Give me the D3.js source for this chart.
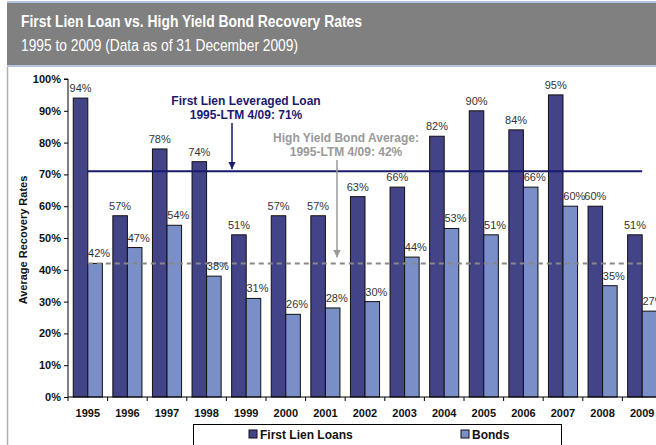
<!DOCTYPE html>
<html>
<head>
<meta charset="utf-8">
<script src="https://cdn.jsdelivr.net/npm/d3@7"></script>
<style>
  body { margin: 0; background: #fff; overflow: hidden; }
  svg { font-family: Arial, "Liberation Sans", sans-serif; display: block; }
</style>
</head>
<body>
<div id="chart"></div>
<script>
// Data
const years = ['1995', '1996', '1997', '1998', '1999', '2000', '2001', '2002',
               '2003', '2004', '2005', '2006', '2007', '2008', '2009'];
const loans = [94, 57, 78, 74, 51, 57, 57, 63, 66, 82, 90, 84, 95, 60, 51];
const bonds = [42, 47, 54, 38, 31, 26, 28, 30, 44, 53, 51, 66, 60, 35, 27];
const loanAvg = 71;
const bondAvg = 42;
const yTicks = [0, 10, 20, 30, 40, 50, 60, 70, 80, 90, 100];

const width = 656, height = 445;
const margin = { top: 79, left: 68, bottom: 48 };
const bandStep = 39.6;

const svg = d3.select('#chart').append('svg')
    .attr('width', width)
    .attr('height', height);

// Header band
svg.append('rect').attr('x', 7).attr('y', 1).attr('width', width).attr('height', 66)
    .attr('fill', '#b4c3e0');
svg.append('rect').attr('x', 7).attr('y', 3).attr('width', width).attr('height', 62)
    .attr('fill', '#808080');
svg.append('line').attr('x1', 7.5).attr('x2', 7.5).attr('y1', 67).attr('y2', height)
    .attr('stroke', '#b0b0b0').attr('stroke-width', 1.5);

// the header font is a condensed face, so squeeze it to the measured width
svg.append('text').attr('x', 21).attr('y', 27)
    .attr('fill', '#fff').attr('font-size', 16).attr('font-weight', 'bold')
    .attr('textLength', 341).attr('lengthAdjust', 'spacingAndGlyphs')
    .text('First Lien Loan vs. High Yield Bond Recovery Rates');
svg.append('text').attr('x', 21).attr('y', 51)
    .attr('fill', '#fff').attr('font-size', 16)
    .attr('textLength', 277).attr('lengthAdjust', 'spacingAndGlyphs')
    .text('1995 to 2009 (Data as of 31 December 2009)');

// Scales
const x0 = d3.scaleBand()
    .domain(years)
    .range([margin.left, margin.left + bandStep * years.length])
    .paddingInner(0.265)
    .paddingOuter(0.1325);

const x1 = d3.scaleBand()
    .domain(['loans', 'bonds'])
    .range([0, x0.bandwidth()]);

const y = d3.scaleLinear()
    .domain([0, 100])
    .range([height - margin.bottom, margin.top]);

const xEdge = d3.scaleLinear()
    .domain([0, years.length])
    .range([margin.left, margin.left + bandStep * years.length]);

const colors = { loans: '#434388', bonds: '#7a8fc8' };
const labelShift = { loans: 0, bonds: 4 };
const rows = years.map((yr, i) => ({ year: yr, loans: loans[i], bonds: bonds[i] }));

// Bars
const groups = svg.append('g').selectAll('g')
    .data(rows)
    .join('g')
    .attr('transform', d => `translate(${x0(d.year)},0)`);

['loans', 'bonds'].forEach(key => {
    groups.append('rect')
        .attr('x', x1(key))
        .attr('y', d => y(d[key]))
        .attr('width', x1.bandwidth())
        .attr('height', d => y(0) - y(d[key]))
        .attr('fill', colors[key])
        .attr('stroke', '#111')
        .attr('stroke-width', 1);
});

// Average lines
const xFirst = x0(years[0]) + x0.bandwidth() / 2;
const xLast = x0(years[years.length - 1]) + x0.bandwidth() / 2;

svg.append('line')
    .attr('x1', xFirst).attr('x2', xLast)
    .attr('y1', y(bondAvg)).attr('y2', y(bondAvg))
    .attr('stroke', '#888').attr('stroke-width', 2)
    .attr('stroke-dasharray', '5,4');

svg.append('line')
    .attr('x1', xFirst).attr('x2', xLast)
    .attr('y1', y(loanAvg)).attr('y2', y(loanAvg))
    .attr('stroke', '#1a1a6e').attr('stroke-width', 2);

// Value labels on top of everything
const labels = svg.append('g').selectAll('g')
    .data(rows)
    .join('g')
    .attr('transform', d => `translate(${x0(d.year)},0)`);

['loans', 'bonds'].forEach(key => {
    labels.append('text')
        .attr('x', x1(key) + x1.bandwidth() / 2 + labelShift[key])
        .attr('y', d => y(d[key]) - 6)
        .attr('text-anchor', 'middle')
        .attr('font-size', 11)
        .attr('fill', '#333')
        .text(d => d[key] + '%');
});

// Axes
const axisY = d3.axisLeft(y)
    .tickValues(yTicks)
    .tickFormat(d => d + '%')
    .tickSize(4)
    .tickPadding(3);

const gy = svg.append('g')
    .attr('transform', `translate(${margin.left},0)`)
    .call(axisY);
gy.select('.domain').attr('stroke', '#000').attr('d', `M-4,${y(100)}H0V${y(0)}`);
gy.selectAll('text').attr('font-size', 11).attr('font-weight', 'bold')
    .attr('font-family', 'Arial, "Liberation Sans", sans-serif').attr('fill', '#111');

const gx = svg.append('g').attr('transform', `translate(0,${y(0)})`);
gx.append('line')
    .attr('x1', margin.left).attr('x2', width)
    .attr('stroke', '#000');
gx.selectAll('.tick')
    .data(d3.range(years.length + 1))
    .join('line')
    .attr('x1', d => xEdge(d)).attr('x2', d => xEdge(d))
    .attr('y1', 0).attr('y2', 4)
    .attr('stroke', '#000');
gx.selectAll('.lbl')
    .data(years)
    .join('text')
    .attr('x', d => x0(d) + x0.bandwidth() / 2)
    .attr('y', 20)
    .attr('text-anchor', 'middle')
    .attr('font-size', 11).attr('font-weight', 'bold').attr('fill', '#111')
    .text(d => d);

// Y axis title
svg.append('text')
    .attr('transform', 'rotate(-90)')
    .attr('x', -240).attr('y', 27)
    .attr('text-anchor', 'middle')
    .attr('font-size', 11).attr('font-weight', 'bold').attr('fill', '#111')
    .text('Average Recovery Rates');

// Annotations
svg.append('defs').selectAll('marker')
    .data([['navyHead', '#1a1a6e'], ['grayHead', '#999']])
    .join('marker')
    .attr('id', d => d[0])
    .attr('viewBox', '0 0 10 10')
    .attr('refX', 10).attr('refY', 5)
    .attr('markerWidth', 5).attr('markerHeight', 5)
    .attr('orient', 'auto')
    .append('path')
    .attr('d', 'M0,0L10,5L0,10Z')
    .attr('fill', d => d[1]);

const loanNote = svg.append('text')
    .attr('text-anchor', 'middle')
    .attr('font-size', 12).attr('font-weight', 'bold').attr('fill', '#1a1a6e');
loanNote.append('tspan').attr('x', 246).attr('y', 105).text('First Lien Leveraged Loan');
loanNote.append('tspan').attr('x', 246).attr('y', 119).text('1995-LTM 4/09: ' + loanAvg + '%');

svg.append('line')
    .attr('x1', 232).attr('x2', 232)
    .attr('y1', 123).attr('y2', y(loanAvg) - 2)
    .attr('stroke', '#1a1a6e').attr('stroke-width', 1.5)
    .attr('marker-end', 'url(#navyHead)');

const bondNote = svg.append('text')
    .attr('text-anchor', 'middle')
    .attr('font-size', 12).attr('font-weight', 'bold').attr('fill', '#999');
bondNote.append('tspan').attr('x', 346).attr('y', 142).text('High Yield Bond Average:');
bondNote.append('tspan').attr('x', 346).attr('y', 156).text('1995-LTM 4/09: ' + bondAvg + '%');

svg.append('line')
    .attr('x1', 337).attr('x2', 337)
    .attr('y1', 160).attr('y2', y(bondAvg) - 6)
    .attr('stroke', '#999').attr('stroke-width', 1.5)
    .attr('marker-end', 'url(#grayHead)');

// Legend
const legend = svg.append('g');
legend.append('rect')
    .attr('x', 193.5).attr('y', 424.5).attr('width', 368).attr('height', 30)
    .attr('fill', '#fff').attr('stroke', '#000');
const items = [['First Lien Loans', colors.loans, 249], ['Bonds', colors.bonds, 461]];
items.forEach(([label, c, lx]) => {
    legend.append('rect')
        .attr('x', lx).attr('y', 430).attr('width', 8).attr('height', 8)
        .attr('fill', c).attr('stroke', '#111');
    legend.append('text')
        .attr('x', lx + 11).attr('y', 439)
        .attr('font-size', 12).attr('font-weight', 'bold').attr('fill', '#111')
        .text(label);
});
</script>
</body>
</html>
